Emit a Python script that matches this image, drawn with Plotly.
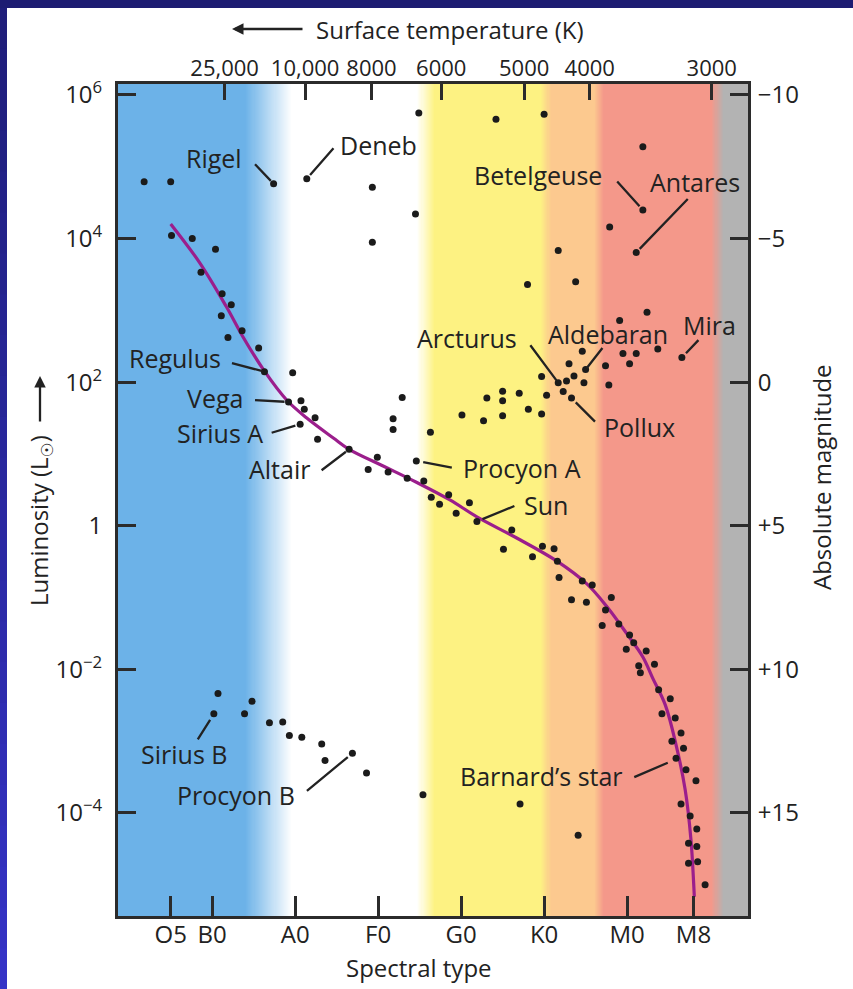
import numpy as np
import plotly.graph_objects as go

# ---------------- data ----------------
# spectral-type coordinate: O5=5, B0=10, A0=20, F0=30, G0=40, K0=50, M0=60, M8=68
spectral_labels = ["O5", "B0", "A0", "F0", "G0", "K0", "M0", "M8"]
spectral_pos = [5, 10, 20, 30, 40, 50, 60, 68]

temp_labels = ["25,000", "10,000", "8000", "6000", "5000", "4000", "3000"]
temp_pos = [11.5, 21.2, 29.2, 37.6, 47.6, 55.5, 70.2]

lum_ticks = [1e-4, 1e-2, 1, 1e2, 1e4, 1e6]
lum_labels = ["10<sup>−4</sup>", "10<sup>−2</sup>", "1", "10<sup>2</sup>", "10<sup>4</sup>", "10<sup>6</sup>"]
mag_ticks = [-10, -5, 0, 5, 10, 15]
mag_labels = ["−10", "−5", "0", "+5", "+10", "+15"]

# giants and supergiants
giant_type = [1.8, 5.0, 17.4, 21.4, 29.3, 34.5, 29.3, 34.9, 44.2, 50.0, 61.9, 61.9, 57.9, 61.1,
              51.7, 48.0, 53.8, 62.4, 59.1, 66.6, 63.7, 59.5, 61.1, 60.3, 54.6, 53.0, 55.0, 57.4,
              49.7, 51.7, 52.7, 53.6, 54.8, 57.8, 45.0, 47.0, 43.1, 50.3, 52.3, 53.3, 32.9, 45.0,
              40.1, 42.7, 45.0, 48.1, 49.7, 36.3, 31.8, 31.8, 34.6]
giant_lum = [6.2e4, 6.2e4, 5.8e4, 6.8e4, 5.2e4, 2.2e4, 8.9e3, 5.6e5, 4.6e5, 5.4e5, 1.9e5, 2.5e4,
             1.45e4, 6.4e3, 6.8e3, 2.3e3, 2.5e3, 940, 720, 220, 290, 250, 250, 180, 270, 180, 150,
             170, 120, 98, 104, 122, 98, 91, 75, 70, 60, 66, 74, 60, 61, 55, 35, 29, 34, 42, 36,
             20, 31, 22, 8.0]

# main-sequence stars
ms_star_type = [5.1, 7.6, 10.4, 8.65, 11.2, 12.3, 11.1, 13.6, 11.9, 15.6, 16.3, 19.7, 19.2, 20.7,
                21.1, 22.4, 20.6, 22.7, 26.5, 29.9, 28.8, 31.2, 33.5, 35.5, 36.4, 38.5, 37.4, 41.0,
                39.4, 41.9, 46.1, 45.1, 48.6, 49.8, 51.2, 51.6, 51.8, 54.6, 55.8, 53.3, 55.1, 58.1,
                57.4, 57.0, 59.0, 60.3, 60.8, 59.9, 62.3, 61.4, 63.3, 61.6, 63.8, 65.2, 64.2, 65.8,
                66.5, 65.4, 66.8, 65.9, 67.1, 68.3, 66.5, 67.6, 68.4, 67.4, 68.4, 67.4, 68.5, 69.4]
ms_star_lum = [1.1e4, 1.0e4, 7.1e3, 3.4e3, 1.7e3, 1.2e3, 840, 520, 420, 300, 140, 135, 53, 55, 42,
               32, 26, 16, 11.6, 9.0, 6.1, 5.6, 4.6, 4.2, 2.5, 2.7, 2.0, 2.1, 1.5, 1.15, 0.87, 0.47,
               0.37, 0.52, 0.48, 0.32, 0.19, 0.17, 0.15, 0.093, 0.086, 0.10, 0.067, 0.041, 0.043,
               0.030, 0.0235, 0.019, 0.018, 0.0112, 0.0118, 0.0090, 5.2e-3, 3.9e-3, 2.4e-3, 2.1e-3,
               1.3e-3, 1.0e-3, 8.0e-4, 5.8e-4, 4.0e-4, 2.8e-4, 1.33e-4, 9.1e-5, 6.0e-5, 3.8e-5,
               3.4e-5, 2.0e-5, 2.1e-5, 1.0e-5]

# white dwarfs and other faint stars
wd_type = [10.7, 10.2, 14.8, 13.9, 16.9, 18.5, 19.3, 20.8, 23.2, 23.6, 26.9, 28.6, 35.4, 47.1, 54.1]
wd_lum = [4.6e-3, 2.4e-3, 3.6e-3, 2.4e-3, 1.8e-3, 1.85e-3, 1.2e-3, 1.13e-3, 9.1e-4, 5.4e-4,
          6.8e-4, 3.6e-4, 1.8e-4, 1.33e-4, 4.9e-5]

# main-sequence curve
curve_type = [5.0, 8.5, 11.7, 13.7, 16.2, 19.0, 21.4, 24.6, 26.5, 30.6, 34.55, 38.65, 41.9, 46.7,
              51.5, 55.15, 57.6, 60.0, 61.9, 63.1, 64.6, 65.9, 67.0, 67.7, 68.0, 68.1]
curve_lum = [1.6e4, 4.6e3, 1.13e3, 430, 148, 56, 31.7, 16.7, 11.6, 6.8, 4.07, 2.29, 1.33, 0.676,
             0.324, 0.155, 0.074, 0.031, 0.0149, 7.5e-3, 3.2e-3, 8.9e-4, 2.1e-4, 4.2e-5, 1.17e-5,
             6.8e-6]

# named stars
named = ["Rigel", "Deneb", "Betelgeuse", "Antares", "Arcturus", "Aldebaran", "Mira", "Pollux",
         "Regulus", "Vega", "Sirius A", "Altair", "Procyon A", "Sun", "Sirius B", "Procyon B",
         "Barnard’s star"]
named_type = [17.4, 21.4, 61.9, 61.1, 51.7, 55.0, 66.6, 53.3, 16.3, 19.2, 20.6, 26.5, 34.6, 41.9,
              10.2, 26.9, 64.9]
named_lum = [5.8e4, 6.8e4, 2.5e4, 6.4e3, 98, 150, 220, 60, 140, 53, 26, 11.6, 8.0, 1.15, 2.4e-3,
             6.8e-4, 5.0e-4]

# ---------------- styling / layout (pixel offsets for labels) ----------------
# text: (dx, dy) of label centre from star;  tail: (dx, dy) of leader line start;  gap: standoff
label_style = {
    "Rigel": dict(text=(-60, -26), tail=(-20, -21), gap=4),
    "Deneb": dict(text=(72, -34), tail=(28, -32), gap=5),
    "Betelgeuse": dict(text=(-105, -35), tail=(-27, -30), gap=5),
    "Antares": dict(text=(59, -71), tail=(53, -55), gap=5),
    "Arcturus": dict(text=(-91, -45), tail=(-29, -39), gap=3),
    "Aldebaran": dict(text=(22, -36), tail=(18, -23), gap=2),
    "Mira": dict(text=(28, -33), tail=(18, -19), gap=6),
    "Pollux": dict(text=(68, 29), tail=(25, 25), gap=6),
    "Regulus": dict(text=(-89, -14), tail=(-34, -9), gap=2),
    "Vega": dict(text=(-74, -4), tail=(-35, -2), gap=4),
    "Sirius A": dict(text=(-80, 9), tail=(-30, 9), gap=5),
    "Altair": dict(text=(-70, 20), tail=(-29, 22), gap=4),
    "Procyon A": dict(text=(106, 7), tail=(37, 7), gap=7),
    "Sun": dict(text=(69, -16), tail=(39, -16), gap=6),
    "Sirius B": dict(text=(-30, 40), tail=(-17, 27), gap=7),
    "Procyon B": dict(text=(-116, 42), tail=(-47, 39), gap=6),
    "Barnard’s star": dict(text=(-126, 13), tail=(-35, 15), gap=0),
}

band_pos = [-1.35, 14.0, 19.6, 34.7, 36.8, 49.6, 50.8, 56.0, 57.2, 70.2, 71.6, 74.57]
band_col = ["#6cb2e8", "#6cb2e8", "#ffffff", "#ffffff", "#fdf282", "#fdf282", "#fcc98f",
            "#fcc98f", "#f4988a", "#f4988a", "#b3b3b3", "#b3b3b3"]

FONT = "Open Sans, Noto Sans, DejaVu Sans, sans-serif"
INK = "#222222"
AXC = "#2b2b2b"
XR = [band_pos[0], band_pos[-1]]
YR = [-5.435, 6.153]

W, H = 853, 989
ML, MR, MT, MB = 118, 105, 84, 73
PW, PH = W - ML - MR, H - MT - MB


def px(xp):
    return (xp - ML) / PW


def py(yp):
    return (H - MB - yp) / PH


fig = go.Figure()

# background colour bands (heatmap along spectral type)
edges = np.linspace(XR[0], XR[1], 601)
centres = (edges[:-1] + edges[1:]) / 2
cs = [[(p - XR[0]) / (XR[1] - XR[0]), c] for p, c in zip(band_pos, band_col)]
fig.add_trace(go.Heatmap(x=edges, y=[10 ** (YR[0] - 0.2), 10 ** (YR[1] + 0.2)],
                         z=[centres], colorscale=cs, zmin=XR[0], zmax=XR[1],
                         showscale=False, hoverinfo="skip"))

# main-sequence curve
fig.add_trace(go.Scatter(x=curve_type, y=curve_lum, mode="lines",
                         line=dict(color="#9b1e8c", width=3.2, shape="spline", smoothing=1.0),
                         hoverinfo="skip"))

dot = dict(color="#1b1b1b", size=7)
for xs, ys in [(giant_type, giant_lum), (ms_star_type, ms_star_lum), (wd_type, wd_lum)]:
    fig.add_trace(go.Scatter(x=xs, y=ys, mode="markers", marker=dot, hoverinfo="skip"))

# invisible trace on the secondary axes so they render
fig.add_trace(go.Scatter(x=[spectral_pos[0]], y=[1], xaxis="x2", yaxis="y2", mode="markers",
                         marker=dict(opacity=0), hoverinfo="skip"))

ann = []
for name, t, l in zip(named, named_type, named_lum):
    st = label_style[name]
    ann.append(dict(x=t, y=np.log10(l), xref="x", yref="y", text="", showarrow=True,
                    arrowhead=0, arrowwidth=2.3, arrowcolor=INK, ax=st["tail"][0],
                    ay=st["tail"][1], standoff=st["gap"]))
    ann.append(dict(x=t, y=np.log10(l), xref="x", yref="y", text=name, showarrow=False,
                    xshift=st["text"][0], yshift=-st["text"][1],
                    font=dict(family=FONT, size=25, color=INK)))

title_font = dict(family=FONT, size=24, color=INK)
ctr = dict(xanchor="center", yanchor="middle", xref="paper", yref="paper")
ann += [
    dict(x=px(419), y=py(967), text="Spectral type", showarrow=False, font=title_font, **ctr),
    dict(x=px(450), y=py(29), text="Surface temperature (K)", showarrow=False,
         font=title_font, **ctr),
    dict(x=px(232), y=py(29), text="", showarrow=True, arrowhead=2, arrowsize=1,
         arrowwidth=2.3, arrowcolor=INK, ax=72, ay=0, **ctr),
    dict(x=px(40), y=py(521), text="Luminosity (L<sub>☉</sub>)", showarrow=False,
         textangle=-90, font=title_font, **ctr),
    dict(x=px(40), y=py(376), text="", showarrow=True, arrowhead=2, arrowsize=1,
         arrowwidth=2.3, arrowcolor=INK, ax=0, ay=47, **ctr),
    dict(x=px(821), y=py(477), text="Absolute magnitude", showarrow=False, textangle=-90,
         font=title_font, **ctr),
]

# navy frame on top and left edges
shapes = [dict(type="rect", xref="paper", yref="paper", x0=px(-5), x1=px(W + 5),
               y0=py(8), y1=py(-5), fillcolor="#1d1c72", line=dict(width=0), layer="below")]
nseg = 24
c0 = np.array([0x1f, 0x1e, 0x7a])
c1 = np.array([0x35, 0x33, 0xc6])
for i in range(nseg):
    f = i / (nseg - 1)
    c = (c0 + (c1 - c0) * f).astype(int)
    y0p = 8 + (H - 8) * i / nseg
    y1p = 8 + (H - 8) * (i + 1) / nseg
    shapes.append(dict(type="rect", xref="paper", yref="paper", x0=px(-5), x1=px(7),
                       y0=py(y1p + 1), y1=py(y0p), fillcolor="rgb(%d,%d,%d)" % tuple(c),
                       line=dict(width=0), layer="below"))

tickfont = dict(family=FONT, size=24, color=INK)
axis_common = dict(showgrid=False, zeroline=False, showline=True, linewidth=3, linecolor=AXC,
                   ticks="inside", tickcolor=AXC, tickwidth=2.6, tickangle=0)

mag_tickvals = [10 ** ((5 - m) / 2.5) for m in mag_ticks]

fig.update_layout(
    width=W, height=H, autosize=False,
    margin=dict(l=ML, r=MR, t=MT, b=MB, pad=0),
    paper_bgcolor="white", plot_bgcolor="white",
    showlegend=False,
    xaxis=dict(range=XR, tickmode="array", tickvals=spectral_pos, ticktext=spectral_labels,
               ticklen=20, ticklabelstandoff=-5, tickfont=tickfont, **axis_common),
    xaxis2=dict(range=XR, overlaying="x", side="top", tickmode="array", tickvals=temp_pos,
                ticktext=temp_labels, ticklen=16, ticklabelstandoff=-4,
                tickfont=dict(family=FONT, size=22, color=INK), **axis_common),
    yaxis=dict(type="log", range=YR, tickmode="array", tickvals=lum_ticks, ticktext=lum_labels,
               ticklen=18, ticklabelstandoff=8, tickfont=tickfont, **axis_common),
    yaxis2=dict(type="log", range=YR, overlaying="y", side="right", tickmode="array",
                tickvals=mag_tickvals, ticktext=mag_labels, ticklen=18, ticklabelstandoff=2,
                tickfont=tickfont, **axis_common),
    annotations=ann,
    shapes=shapes,
)

fig.write_html("out.html", config={"displayModeBar": False})
